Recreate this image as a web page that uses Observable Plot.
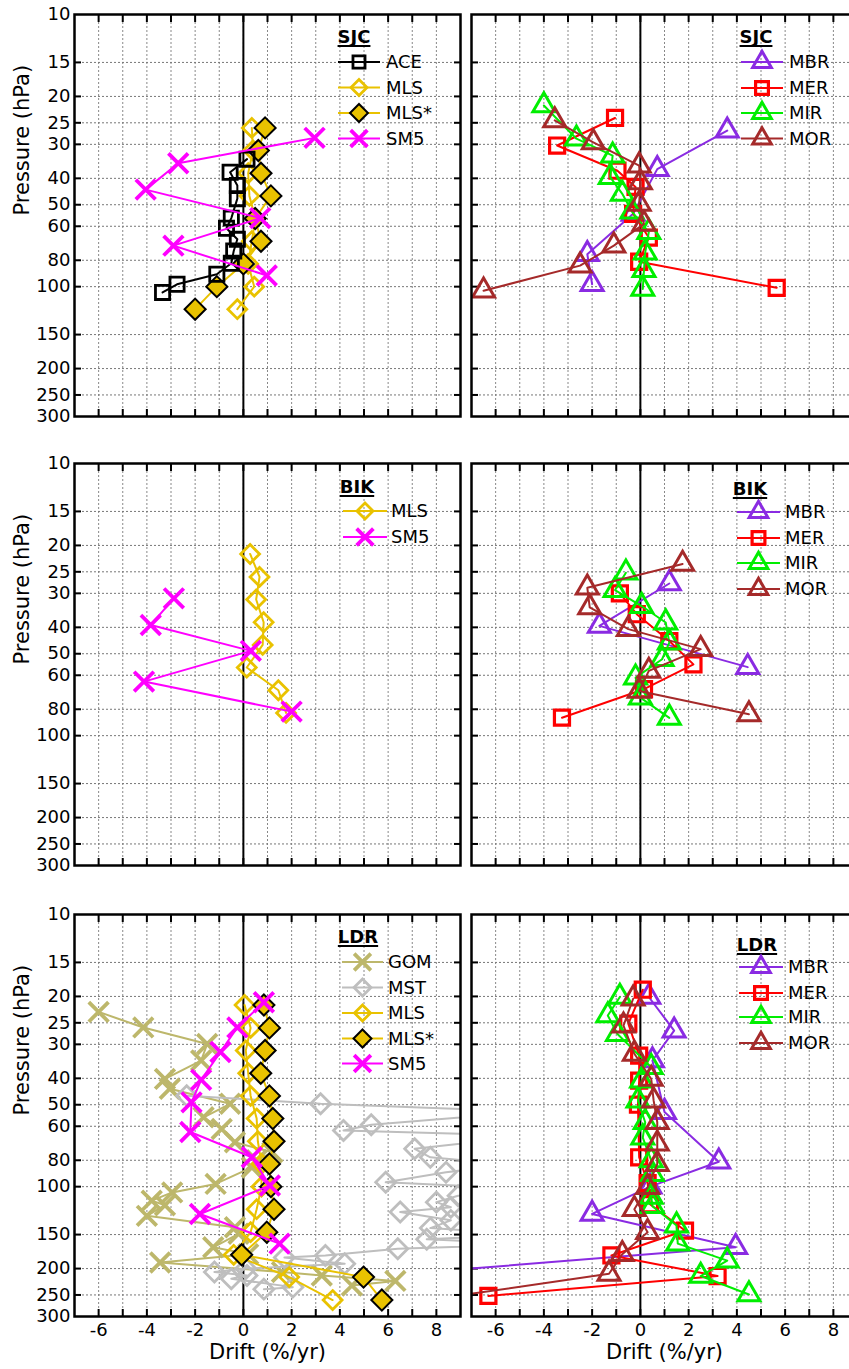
<!DOCTYPE html>
<html><head><meta charset="utf-8">
<script src="https://cdn.jsdelivr.net/npm/d3@7"></script>
<script src="https://cdn.jsdelivr.net/npm/@observablehq/plot@0.6"></script>
<style>
html,body{margin:0;padding:0;background:#fff;overflow:hidden;}
#wrap{position:relative;width:849px;height:1369px;overflow:hidden;background:#fff;}
#wrap svg{position:absolute;max-width:none;}
</style></head><body><div id="wrap"></div>
<script>
// ---- data: [pressure (hPa), drift (%/yr)] ----
const SJC_ACE = [[34,0.15],[38,-0.55],[42.5,-0.25],[47.5,-0.25],[56,-0.5],[61,-0.7],[67,-0.25],[74,-0.4],[82,-0.5],[90,-1.1],[98,-2.75],[105,-3.35]];
const SJC_MLS = [[26.1,0.35],[31.6,0.4],[38.3,0.2],[46.4,0.25],[56.2,0.5],[68.1,0.35],[82.5,0.2],[100,0.45],[121,-0.25]];
const SJC_MLSs = [[26.1,0.9],[31.6,0.62],[38.3,0.73],[46.4,1.14],[56.2,0.49],[68.1,0.73],[82.5,0.0],[100,-1.1],[121,-2.0]];
const SJC_SM5 = [[28.4,2.95],[35.2,-2.7],[44,-4.05],[56,0.7],[70.7,-2.9],[91,0.97]];
const SJC_MBR = [[26.7,3.6],[37,0.7],[54,-0.3],[76,-2.2],[98,-2.0]];
const SJC_MER = [[24,-1.05],[30.3,-3.45],[37.5,-0.95],[43,-0.2],[54,-0.3],[66,0.35],[81,-0.05],[101,5.65]];
const SJC_MIR = [[21.6,-4.0],[28.6,-2.65],[33,-1.15],[39.6,-1.25],[45.6,-0.75],[53,-0.35],[63,0.35],[75,0.2],[87,0.15],[102,0.1]];
const SJC_MOR = [[24.5,-3.55],[29.5,-1.95],[35.9,-0.05],[41.4,0],[49.7,-0.05],[58.8,0.15],[70.7,-1.1],[83.7,-2.5],[103.5,-6.5]];

const BIK_MLS = [[21.5,0.28],[26.1,0.67],[31.6,0.53],[38.3,0.84],[46.4,0.8],[56.2,0.14],[68.1,1.45],[82.5,1.77]];
const BIK_SM5 = [[31.3,-2.88],[39.2,-3.84],[48.8,0.31],[63.3,-4.12],[81.6,2.0]];
const BIK_MBR = [[27.6,1.2],[39.5,-1.7],[56,4.45]];
const BIK_MER = [[30,-0.85],[35.8,-0.15],[44.9,1.2],[54.7,2.2],[67.5,0.15],[85.9,-3.25]];
const BIK_MIR = [[25.2,-0.6],[29.2,-1.05],[33.4,0.05],[38.4,1.05],[45.5,1.2],[52.4,0.9],[61.2,-0.2],[72.5,0],[86,1.2]];
const BIK_MOR = [[23.4,1.75],[28.6,-2.2],[33.8,-2.1],[40.6,-0.5],[48.1,2.5],[57.8,0.35],[68.5,-0.05],[83.5,4.5]];

const LDR_GOM = [[22.8,-6.0],[26,-4.15],[29.9,-1.5],[34.4,-1.75],[40.2,-3.25],[43.7,-3.05],[49.6,-0.55],[55.6,-1.65],[61.4,-0.9],[68.7,-0.35],[74.8,1.2],[80,0.55],[85,0.35],[97.7,-1.15],[105,-2.95],[112.6,-3.8],[117,-3.25],[128,-4.0],[141,-0.35],[149,-0.2],[167,-1.25],[177,0.2],[190,-3.45],[206,1.6],[212,3.25],[222,6.3],[231,4.5]];
const LDR_MST = [[46.3,-2.35],[49.6,3.2],[53,12],[59.2,5.3],[62.2,4.15],[65,12],[72.6,7.1],[78,7.75],[83,11],[88.6,8.4],[96.4,5.9],[102,12],[108,8.9],[114,8.0],[119,8.6],[124,6.5],[133,8.6],[142,7.75],[150,12],[156,7.6],[163,12],[169,6.4],[179,3.4],[182,1.7],[192,4.2],[200,0.1],[206,-1.2],[212,0.15],[218,-0.5],[234,2.05],[238,0.85]];
const LDR_MLS = [[21.5,0.05],[26.1,0.3],[31.6,0.1],[38.3,0.2],[46.4,0.3],[56.2,0.55],[68.1,0.6],[82.5,0.75],[100,0.75],[121,0.55],[147,0.3],[178,-0.4],[215,1.9],[261,3.7]];
const LDR_MLSs = [[21.5,0.85],[26.1,1.08],[31.6,0.9],[38.3,0.72],[46.4,1.08],[56.2,1.22],[68.1,1.27],[82.5,1.08],[100,1.14],[121,1.27],[147,0.97],[178,-0.07],[215,4.98],[261,5.74]];
const LDR_SM5 = [[21,0.85],[26,-0.25],[32,-0.95],[40.5,-1.75],[49,-2.15],[63,-2.2],[78,0.35],[99,1.1],[126,-1.8],[162,1.5]];
const LDR_MBR = [[20.1,0.35],[26.7,1.4],[34.4,0.5],[53.2,1.0],[81,3.25],[100,0.4],[126,-2.0],[167,3.95],[210,-10]];
const LDR_MER = [[18.9,0.1],[25.2,-0.5],[33,-0.05],[40.8,-0.05],[50,-0.1],[78,-0.05],[97,0.3],[116,0.4],[145,1.85],[179,-1.2],[213,3.2],[252,-6.3]];
const LDR_MIR = [[20.1,-0.85],[23.5,-1.35],[27.5,-0.95],[36.4,0.45],[40.8,0.05],[48.3,-0.1],[58,0.2],[66,0.1],[80,0.45],[90,0.5],[109,0.45],[118,0.5],[139,1.5],[162,1.55],[187,3.6],[213,2.5],[249,4.5]];
const LDR_MOR = [[20.4,-0.3],[25.6,-0.7],[32.5,-0.25],[40.2,0.45],[48.3,0.55],[58,0.7],[69.5,0.7],[82.6,0.7],[100.5,0.3],[121,-0.25],[147,0.3],[177,-0.75],[209,-1.3],[252,-7.6]];

// ---- ticks ----
const Y_TICKS = [10,15,20,25,30,40,50,60,80,100,150,200,250,300];
const Y_GRID = [15,20,25,30,40,50,60,80,100,150,200,250];
const X_GRID = [-6,-5,-4,-3,-2,-1,0,1,2,3,4,5,6,7,8];
const X_LABELS = [-6,-4,-2,0,2,4,6,8];

// ---- styles ----
const YEL = "#E9C200";
const STYLE = {
  ACE:  {color:"#000000", symbol:"square",    r:8,    fill:"none", sw:2.8},
  MLS:  {color:YEL,       symbol:"diamond2",  r:8.5,  fill:"none", sw:2.8},
  "MLS*":{color:YEL,      symbol:"diamond2",  r:9.5,  fill:YEL, stroke:"#000000", sw:2},
  SM5:  {color:"#FF00FF", symbol:"times",     r:9,    fill:"none", sw:3.8},
  GOM:  {color:"#BDB76B", symbol:"times",     r:9,    fill:"none", sw:3.8},
  MST:  {color:"#BEBEBE", symbol:"diamond2",  r:9,    fill:"none", sw:2.8},
  MBR:  {color:"#8A2BE2", symbol:"triangle2", r:10.5, fill:"none", sw:3},
  MER:  {color:"#FF0000", symbol:"square",    r:8.5,  fill:"none", sw:3.2},
  MIR:  {color:"#00EE00", symbol:"triangle2", r:10.5, fill:"none", sw:3},
  MOR:  {color:"#A52A2A", symbol:"triangle2", r:10.5, fill:"none", sw:3}
};
const SYM = {square:d3.symbolSquare, diamond2:d3.symbolDiamond2, triangle2:d3.symbolTriangle2, times:d3.symbolTimes};
const FONT = "DejaVu Sans";

function seriesMarks(name, data) {
  const s = STYLE[name];
  return [
    Plot.line(data, {x: d => d[1], y: d => d[0], stroke: s.color, strokeWidth: 2, clip: true}),
    Plot.dot(data, {x: d => d[1], y: d => d[0], symbol: s.symbol, r: s.r, fill: s.fill,
      stroke: s.stroke || s.color, strokeWidth: s.sw, clip: true})
  ];
}

const wrap = document.getElementById("wrap");

function panel(cfg) {
  const mL = cfg.isLeft ? 74 : 9;
  const width = cfg.isLeft ? 470 : 400;
  const mT = 14, mB = cfg.bottom ? 55 : 10;
  const height = mT + 402 + mB;
  const tickOpts = {tickSize: 7, fill: "none", label: null, strokeWidth: 2};
  const marks = [
    Plot.gridX(X_GRID, {stroke: "#888", strokeOpacity: 1, strokeDasharray: "2,2", strokeWidth: 1}),
    Plot.gridY(Y_GRID, {stroke: "#777", strokeOpacity: 1, strokeDasharray: "2,2", strokeWidth: 1}),
    Plot.ruleX([0], {stroke: "#000", strokeWidth: 2}),
    Plot.axisX(X_GRID, {anchor: "top", dy: 7, ...tickOpts}),
    Plot.axisX(X_GRID, {anchor: "bottom", dy: -7, ...tickOpts}),
    Plot.axisY(Y_GRID, {anchor: "left", dx: 7, ...tickOpts}),
    Plot.axisY(Y_GRID, {anchor: "right", dx: -7, ...tickOpts})
  ];
  for (const [name, data] of cfg.series) marks.push(...seriesMarks(name, data));
  marks.push(Plot.frame({stroke: "#000", strokeWidth: 2.5}));
  if (cfg.isLeft) {
    marks.push(Plot.axisY(Y_TICKS, {anchor: "left", tickSize: 0, tickPadding: 4, tickFormat: d => String(d), fontSize: 18, label: null}));
    marks.push(Plot.text(["Pressure (hPa)"], {text: d => d, frameAnchor: "left", dx: -52, rotate: -90, fontSize: 21}));
  }
  if (cfg.bottom) {
    marks.push(Plot.axisX(X_LABELS, {anchor: "bottom", tickSize: 0, tickPadding: 7, tickFormat: d => String(d), fontSize: 18, label: null}));
    marks.push(Plot.text(["Drift (%/yr)"], {text: d => d, frameAnchor: "bottom", dy: 42, fontSize: 21}));
  }
  const svg = Plot.plot({
    width, height, marginLeft: mL, marginRight: width - mL - 386, marginTop: mT, marginBottom: mB,
    x: {domain: [-7, 9]},
    y: {type: "log", domain: [10, 300], reverse: true},
    style: {fontFamily: FONT, background: "transparent", overflow: "visible", color: "#000"},
    marks
  });
  svg.style.left = cfg.left + "px";
  svg.style.top = cfg.top + "px";
  wrap.appendChild(svg);

  // legend
  const L = cfg.legend;
  const g = d3.select(svg).append("g").attr("transform", `translate(${mL},${mT})`)
    .attr("font-family", FONT).attr("text-anchor", "start");
  const t = g.append("text").attr("x", L.tx).attr("y", L.ty).attr("text-anchor", "middle")
    .attr("font-weight", "bold").attr("font-size", 18).text(cfg.title);
  const tw = t.node().getComputedTextLength();
  g.append("line").attr("x1", L.tx - tw / 2).attr("x2", L.tx + tw / 2)
    .attr("y1", L.ty + 3).attr("y2", L.ty + 3).attr("stroke", "#000").attr("stroke-width", 2);
  cfg.series.slice().sort((a, b) => cfg.order.indexOf(a[0]) - cfg.order.indexOf(b[0])).forEach(([name], i) => {
    const s = STYLE[name];
    const y = L.rows[i];
    const k = 0.85;
    g.append("line").attr("x1", L.x1).attr("x2", L.x2).attr("y1", y).attr("y2", y)
      .attr("stroke", s.color).attr("stroke-width", 2);
    g.append("path").attr("transform", `translate(${(L.x1 + L.x2) / 2},${y})`)
      .attr("d", d3.symbol(SYM[s.symbol], Math.PI * (s.r * k) * (s.r * k))())
      .attr("fill", s.fill).attr("stroke", s.stroke || s.color).attr("stroke-width", s.sw);
    g.append("text").attr("x", L.lx).attr("y", y).attr("dy", "0.36em").attr("text-anchor", "start")
      .attr("font-size", 18).text(name);
  });
}

panel({left: 0, top: 0, isLeft: true, title: "SJC",
  series: [["MLS", SJC_MLS], ["MLS*", SJC_MLSs], ["ACE", SJC_ACE], ["SM5", SJC_SM5]],
  order: ["ACE", "MLS", "MLS*", "SM5"],
  legend: {tx: 280, ty: 29, x1: 264, x2: 306, lx: 312, rows: [48, 73.5, 99, 124.5]}});
panel({left: 462, top: 0, isLeft: false, title: "SJC",
  series: [["MBR", SJC_MBR], ["MER", SJC_MER], ["MIR", SJC_MIR], ["MOR", SJC_MOR]],
  order: ["MBR", "MER", "MIR", "MOR"],
  legend: {tx: 285, ty: 29, x1: 270, x2: 312, lx: 318, rows: [48, 74, 99, 124.5]}});
panel({left: 0, top: 449, isLeft: true, title: "BIK",
  series: [["MLS", BIK_MLS], ["SM5", BIK_SM5]],
  order: ["MLS", "SM5"],
  legend: {tx: 283, ty: 30, x1: 269, x2: 313, lx: 317, rows: [48, 74]}});
panel({left: 462, top: 449, isLeft: false, title: "BIK",
  series: [["MBR", BIK_MBR], ["MER", BIK_MER], ["MIR", BIK_MIR], ["MOR", BIK_MOR]],
  order: ["MBR", "MER", "MIR", "MOR"],
  legend: {tx: 279, ty: 32, x1: 266, x2: 309, lx: 314, rows: [49, 75, 100, 126]}});
panel({left: 0, top: 900, isLeft: true, bottom: true, title: "LDR",
  series: [["GOM", LDR_GOM], ["MST", LDR_MST], ["MLS", LDR_MLS], ["MLS*", LDR_MLSs], ["SM5", LDR_SM5]],
  order: ["GOM", "MST", "MLS", "MLS*", "SM5"],
  legend: {tx: 284, ty: 29, x1: 268, x2: 309, lx: 314, rows: [48, 73.5, 99, 124.5, 149.5]}});
panel({left: 462, top: 900, isLeft: false, bottom: true, title: "LDR",
  series: [["MBR", LDR_MBR], ["MER", LDR_MER], ["MIR", LDR_MIR], ["MOR", LDR_MOR]],
  order: ["MBR", "MER", "MIR", "MOR"],
  legend: {tx: 286, ty: 37, x1: 268, x2: 312, lx: 317, rows: [53, 79, 103, 129]}});
</script></body></html>
